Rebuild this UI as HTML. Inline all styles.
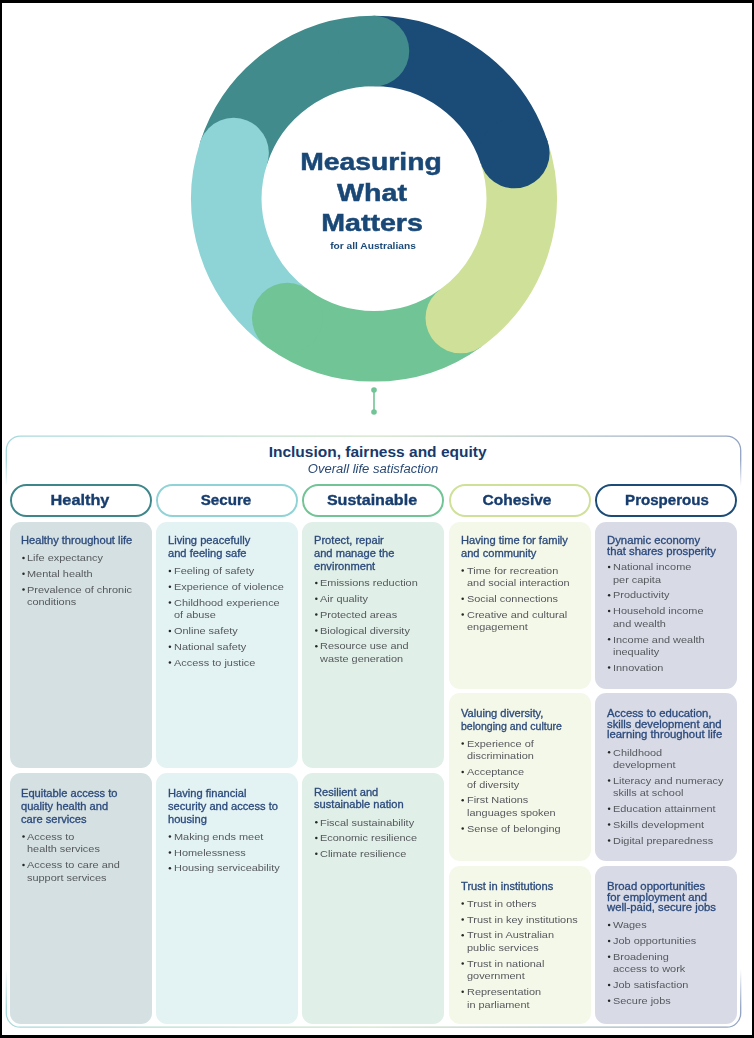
<!DOCTYPE html><html><head><meta charset="utf-8"><style>
html,body{margin:0;padding:0;}
body{width:754px;height:1038px;position:relative;overflow:hidden;background:#fff;font-family:"Liberation Sans",sans-serif;}
.a{position:absolute;white-space:nowrap;}
.h{color:#2c4a7c;font-size:10.4px;line-height:12px;-webkit-text-stroke:0.3px #2c4a7c;transform:scaleX(1.07);transform-origin:0 0;}
.b{color:#55585c;font-size:9.8px;line-height:12px;transform:scaleX(1.115);transform-origin:0 0;}
.d{position:absolute;width:2.5px;height:2.5px;background:#2a2a2a;border-radius:50%;}
.card{position:absolute;border-radius:11px;}
.pill{position:absolute;box-sizing:border-box;height:32.8px;border-radius:16.4px;border:2px solid;background:#fff;}
.pt{position:absolute;font-weight:bold;color:#1d4274;font-size:15px;line-height:18px;white-space:nowrap;text-align:center;}
</style></head><body>

<div style="position:absolute;left:0;top:0;width:754px;height:3px;background:#000"></div>
<div style="position:absolute;left:0;top:0;width:2px;height:1038px;background:#000"></div>
<div style="position:absolute;left:752px;top:0;width:2px;height:1038px;background:#000"></div>
<div style="position:absolute;left:0;top:1035px;width:754px;height:3px;background:#000"></div>
<svg class="a" style="left:0;top:0" width="754" height="420" viewBox="0 0 754 420"><path d="M233.62 153.09 A147.6 147.6 0 0 1 374.00 51.10" fill="none" stroke="#418b8c" stroke-width="70.5" stroke-linecap="butt"/><path d="M374.00 51.10 A147.6 147.6 0 0 1 514.38 153.09" fill="none" stroke="#1b4c77" stroke-width="70.5" stroke-linecap="butt"/><path d="M514.38 153.09 A147.6 147.6 0 0 1 460.76 318.11" fill="none" stroke="#cfe198" stroke-width="70.5" stroke-linecap="butt"/><path d="M460.76 318.11 A147.6 147.6 0 0 1 287.24 318.11" fill="none" stroke="#70c495" stroke-width="70.5" stroke-linecap="butt"/><path d="M287.24 318.11 A147.6 147.6 0 0 1 233.62 153.09" fill="none" stroke="#8ed4d7" stroke-width="70.5" stroke-linecap="butt"/><circle cx="374.00" cy="51.10" r="35.25" fill="#418b8c"/><circle cx="514.38" cy="153.09" r="35.25" fill="#1b4c77"/><circle cx="460.76" cy="318.11" r="35.25" fill="#cfe198"/><circle cx="287.24" cy="318.11" r="35.25" fill="#70c495"/><circle cx="233.62" cy="153.09" r="35.25" fill="#8ed4d7"/><line x1="374" y1="390" x2="374" y2="412" stroke="#70c495" stroke-width="1.6"/><circle cx="374" cy="390" r="2.8" fill="#70c495"/><circle cx="374" cy="412" r="2.8" fill="#70c495"/></svg>
<div class="a" style="left:71.0px;width:600px;text-align:center;top:147.48px;font-size:24px;line-height:29px;font-weight:bold;color:#1a4876;transform:scaleX(1.18);transform-origin:300px 0;-webkit-text-stroke:0.5px #1a4876">Measuring</div>
<div class="a" style="left:71.5px;width:600px;text-align:center;top:177.78px;font-size:24px;line-height:29px;font-weight:bold;color:#1a4876;transform:scaleX(1.19);transform-origin:300px 0;-webkit-text-stroke:0.5px #1a4876">What</div>
<div class="a" style="left:71.80000000000001px;width:600px;text-align:center;top:208.48px;font-size:24px;line-height:29px;font-weight:bold;color:#1a4876;transform:scaleX(1.19);transform-origin:300px 0;-webkit-text-stroke:0.5px #1a4876">Matters</div>
<div class="a" style="left:73.30000000000001px;width:600px;text-align:center;top:240.40px;font-size:9.8px;line-height:12px;font-weight:bold;color:#1b4a78;transform:scaleX(1.04);transform-origin:300px 0;">for all Australians</div>
<svg class="a" style="left:0;top:0" width="754" height="1038"><defs>
<linearGradient id="bg" x1="0" y1="0" x2="1" y2="0"><stop offset="0" stop-color="#a7d9dc"/><stop offset="0.5" stop-color="#cfe3c8"/><stop offset="1" stop-color="#93a3c2"/></linearGradient>
<linearGradient id="fd" gradientUnits="userSpaceOnUse" x1="0" y1="436" x2="0" y2="1028">
<stop offset="0" stop-color="#fff"/><stop offset="0.04" stop-color="#fff"/><stop offset="0.085" stop-color="#000"/>
<stop offset="0.9" stop-color="#000"/><stop offset="0.965" stop-color="#fff"/><stop offset="1" stop-color="#fff"/></linearGradient>
<mask id="mk"><rect x="0" y="0" width="754" height="1038" fill="url(#fd)"/></mask></defs>
<rect x="6.3" y="436.2" width="734.4" height="591" rx="14" fill="none" stroke="url(#bg)" stroke-width="1.3" mask="url(#mk)"/></svg>
<div class="a" style="left:77.60000000000002px;width:600px;text-align:center;top:441.63px;font-size:15.5px;line-height:19px;font-weight:bold;color:#17396b;transform:scaleX(1.0);transform-origin:300px 0;">Inclusion, fairness and equity</div>
<div class="a" style="left:73.0px;width:600px;text-align:center;top:461.84px;font-size:12px;line-height:14px;font-weight:normal;color:#2a4a76;font-style:italic;transform:scaleX(1.087);transform-origin:300px 0;">Overall life satisfaction</div>
<div class="pill" style="left:9.6px;top:484.1px;width:142.0px;border-color:#3d868a"></div>
<div class="a" style="left:-219.65px;width:600px;text-align:center;top:490.84px;font-size:14.6px;line-height:18px;font-weight:bold;color:#173d6e;transform:scaleX(1.115);transform-origin:300px 0;-webkit-text-stroke:0.35px #173d6e">Healthy</div>
<div class="pill" style="left:156.0px;top:484.1px;width:142.0px;border-color:#8fd3d6"></div>
<div class="a" style="left:-73.80000000000001px;width:600px;text-align:center;top:490.84px;font-size:14.6px;line-height:18px;font-weight:bold;color:#173d6e;transform:scaleX(1.039);transform-origin:300px 0;-webkit-text-stroke:0.35px #173d6e">Secure</div>
<div class="pill" style="left:302.40000000000003px;top:484.1px;width:142.0px;border-color:#70c495"></div>
<div class="a" style="left:71.69999999999999px;width:600px;text-align:center;top:490.84px;font-size:14.6px;line-height:18px;font-weight:bold;color:#173d6e;transform:scaleX(1.101);transform-origin:300px 0;-webkit-text-stroke:0.35px #173d6e">Sustainable</div>
<div class="pill" style="left:448.80000000000007px;top:484.1px;width:142.0px;border-color:#cfe198"></div>
<div class="a" style="left:217.29999999999995px;width:600px;text-align:center;top:490.84px;font-size:14.6px;line-height:18px;font-weight:bold;color:#173d6e;transform:scaleX(1.062);transform-origin:300px 0;-webkit-text-stroke:0.35px #173d6e">Cohesive</div>
<div class="pill" style="left:595.2px;top:484.1px;width:142.0px;border-color:#1b4c77"></div>
<div class="a" style="left:366.5px;width:600px;text-align:center;top:490.84px;font-size:14.6px;line-height:18px;font-weight:bold;color:#173d6e;transform:scaleX(1.033);transform-origin:300px 0;-webkit-text-stroke:0.35px #173d6e">Prosperous</div>
<div class="card" style="left:9.6px;top:521.75px;width:142.0px;height:246.0px;background:#d4e0e1"></div>
<div class="a h" style="left:21.40px;top:535.00px;">Healthy throughout life</div>
<div class="a b" style="left:27.40px;top:552.00px;">Life expectancy</div>
<div class="a b" style="left:27.40px;top:568.00px;">Mental health</div>
<div class="a b" style="left:27.40px;top:584.00px;">Prevalence of chronic</div>
<div class="a b" style="left:27.40px;top:596.00px;">conditions</div>
<div class="card" style="left:9.6px;top:773px;width:142.0px;height:251px;background:#d4e0e1"></div>
<div class="a h" style="left:21.40px;top:788.00px;">Equitable access to</div>
<div class="a h" style="left:21.40px;top:801.00px;">quality health and</div>
<div class="a h" style="left:21.40px;top:814.00px;">care services</div>
<div class="a b" style="left:27.40px;top:831.00px;">Access to</div>
<div class="a b" style="left:27.40px;top:843.00px;">health services</div>
<div class="a b" style="left:27.40px;top:859.00px;">Access to care and</div>
<div class="a b" style="left:27.40px;top:872.00px;">support services</div>
<div class="card" style="left:156.0px;top:521.75px;width:142.0px;height:246.0px;background:#e3f2f3"></div>
<div class="a h" style="left:167.80px;top:535.00px;">Living peacefully</div>
<div class="a h" style="left:167.80px;top:548.00px;">and feeling safe</div>
<div class="a b" style="left:173.80px;top:565.00px;">Feeling of safety</div>
<div class="a b" style="left:173.80px;top:581.00px;">Experience of violence</div>
<div class="a b" style="left:173.80px;top:597.00px;">Childhood experience</div>
<div class="a b" style="left:173.80px;top:609.00px;">of abuse</div>
<div class="a b" style="left:173.80px;top:625.00px;">Online safety</div>
<div class="a b" style="left:173.80px;top:641.00px;">National safety</div>
<div class="a b" style="left:173.80px;top:657.00px;">Access to justice</div>
<div class="card" style="left:156.0px;top:773px;width:142.0px;height:251px;background:#e3f2f3"></div>
<div class="a h" style="left:167.80px;top:788.00px;">Having financial</div>
<div class="a h" style="left:167.80px;top:801.00px;">security and access to</div>
<div class="a h" style="left:167.80px;top:814.00px;">housing</div>
<div class="a b" style="left:173.80px;top:831.00px;">Making ends meet</div>
<div class="a b" style="left:173.80px;top:847.00px;">Homelessness</div>
<div class="a b" style="left:173.80px;top:862.00px;">Housing serviceability</div>
<div class="card" style="left:302.40000000000003px;top:521.75px;width:142.0px;height:246.0px;background:#e0efe7"></div>
<div class="a h" style="left:314.20px;top:535.00px;">Protect, repair</div>
<div class="a h" style="left:314.20px;top:548.00px;">and manage the</div>
<div class="a h" style="left:314.20px;top:561.00px;">environment</div>
<div class="a b" style="left:320.20px;top:577.00px;">Emissions reduction</div>
<div class="a b" style="left:320.20px;top:593.00px;">Air quality</div>
<div class="a b" style="left:320.20px;top:609.00px;">Protected areas</div>
<div class="a b" style="left:320.20px;top:625.00px;">Biological diversity</div>
<div class="a b" style="left:320.20px;top:640.00px;">Resource use and</div>
<div class="a b" style="left:320.20px;top:653.00px;">waste generation</div>
<div class="card" style="left:302.40000000000003px;top:773px;width:142.0px;height:251px;background:#e0efe7"></div>
<div class="a h" style="left:314.20px;top:787.00px;">Resilient and</div>
<div class="a h" style="left:314.20px;top:799.00px;">sustainable nation</div>
<div class="a b" style="left:320.20px;top:817.00px;">Fiscal sustainability</div>
<div class="a b" style="left:320.20px;top:832.00px;">Economic resilience</div>
<div class="a b" style="left:320.20px;top:848.00px;">Climate resilience</div>
<div class="card" style="left:448.80000000000007px;top:521.75px;width:142.0px;height:166.75px;background:#f4f8e9"></div>
<div class="a h" style="left:460.60px;top:535.00px;">Having time for family</div>
<div class="a h" style="left:460.60px;top:548.00px;">and community</div>
<div class="a b" style="left:466.60px;top:565.00px;">Time for recreation</div>
<div class="a b" style="left:466.60px;top:577.00px;">and social interaction</div>
<div class="a b" style="left:466.60px;top:593.00px;">Social connections</div>
<div class="a b" style="left:466.60px;top:609.00px;">Creative and cultural</div>
<div class="a b" style="left:466.60px;top:621.00px;">engagement</div>
<div class="card" style="left:448.80000000000007px;top:693.2px;width:142.0px;height:168.19999999999993px;background:#f4f8e9"></div>
<div class="a h" style="left:460.60px;top:708.00px;">Valuing diversity,</div>
<div class="a h" style="left:460.60px;top:721.00px;transform:scaleX(1.016);">belonging and culture</div>
<div class="a b" style="left:466.60px;top:738.00px;">Experience of</div>
<div class="a b" style="left:466.60px;top:750.00px;">discrimination</div>
<div class="a b" style="left:466.60px;top:766.00px;">Acceptance</div>
<div class="a b" style="left:466.60px;top:779.00px;">of diversity</div>
<div class="a b" style="left:466.60px;top:794.00px;">First Nations</div>
<div class="a b" style="left:466.60px;top:807.00px;">languages spoken</div>
<div class="a b" style="left:466.60px;top:823.00px;">Sense of belonging</div>
<div class="card" style="left:448.80000000000007px;top:866px;width:142.0px;height:157.79999999999995px;background:#f4f8e9"></div>
<div class="a h" style="left:460.60px;top:881.00px;">Trust in institutions</div>
<div class="a b" style="left:466.60px;top:898.00px;">Trust in others</div>
<div class="a b" style="left:466.60px;top:914.00px;">Trust in key institutions</div>
<div class="a b" style="left:466.60px;top:929.00px;">Trust in Australian</div>
<div class="a b" style="left:466.60px;top:942.00px;">public services</div>
<div class="a b" style="left:466.60px;top:958.00px;">Trust in national</div>
<div class="a b" style="left:466.60px;top:970.00px;">government</div>
<div class="a b" style="left:466.60px;top:986.00px;">Representation</div>
<div class="a b" style="left:466.60px;top:999.00px;">in parliament</div>
<div class="card" style="left:595.2px;top:521.75px;width:142.0px;height:166.75px;background:#d8dbe6"></div>
<div class="a h" style="left:607.00px;top:535.00px;transform:scaleX(1.09);">Dynamic economy</div>
<div class="a h" style="left:607.00px;top:546.00px;transform:scaleX(1.09);">that shares prosperity</div>
<div class="a b" style="left:613.00px;top:561.00px;">National income</div>
<div class="a b" style="left:613.00px;top:574.00px;">per capita</div>
<div class="a b" style="left:613.00px;top:589.00px;">Productivity</div>
<div class="a b" style="left:613.00px;top:605.00px;">Household income</div>
<div class="a b" style="left:613.00px;top:618.00px;">and wealth</div>
<div class="a b" style="left:613.00px;top:634.00px;">Income and wealth</div>
<div class="a b" style="left:613.00px;top:646.00px;">inequality</div>
<div class="a b" style="left:613.00px;top:662.00px;">Innovation</div>
<div class="card" style="left:595.2px;top:693.2px;width:142.0px;height:168.19999999999993px;background:#d8dbe6"></div>
<div class="a h" style="left:607.00px;top:708.00px;transform:scaleX(1.09);">Access to education,</div>
<div class="a h" style="left:607.00px;top:719.00px;transform:scaleX(1.09);">skills development and</div>
<div class="a h" style="left:607.00px;top:729.00px;transform:scaleX(1.09);">learning throughout life</div>
<div class="a b" style="left:613.00px;top:747.00px;">Childhood</div>
<div class="a b" style="left:613.00px;top:759.00px;">development</div>
<div class="a b" style="left:613.00px;top:775.00px;">Literacy and numeracy</div>
<div class="a b" style="left:613.00px;top:787.00px;">skills at school</div>
<div class="a b" style="left:613.00px;top:803.00px;">Education attainment</div>
<div class="a b" style="left:613.00px;top:819.00px;">Skills development</div>
<div class="a b" style="left:613.00px;top:835.00px;">Digital preparedness</div>
<div class="card" style="left:595.2px;top:866px;width:142.0px;height:157.79999999999995px;background:#d8dbe6"></div>
<div class="a h" style="left:607.00px;top:881.00px;transform:scaleX(1.09);">Broad opportunities</div>
<div class="a h" style="left:607.00px;top:892.00px;transform:scaleX(1.09);">for employment and</div>
<div class="a h" style="left:607.00px;top:902.00px;transform:scaleX(1.09);">well-paid, secure jobs</div>
<div class="a b" style="left:613.00px;top:919.00px;">Wages</div>
<div class="a b" style="left:613.00px;top:935.00px;">Job opportunities</div>
<div class="a b" style="left:613.00px;top:951.00px;">Broadening</div>
<div class="a b" style="left:613.00px;top:963.00px;">access to work</div>
<div class="a b" style="left:613.00px;top:979.00px;">Job satisfaction</div>
<div class="a b" style="left:613.00px;top:995.00px;">Secure jobs</div>
<svg class="a" style="left:0;top:0" width="754" height="1038" fill="#262626"><circle cx="23.50" cy="558.00" r="1.25"/><circle cx="23.50" cy="573.80" r="1.25"/><circle cx="23.50" cy="589.60" r="1.25"/><circle cx="23.50" cy="836.60" r="1.25"/><circle cx="23.50" cy="864.90" r="1.25"/><circle cx="169.90" cy="571.00" r="1.25"/><circle cx="169.90" cy="586.80" r="1.25"/><circle cx="169.90" cy="602.60" r="1.25"/><circle cx="169.90" cy="630.90" r="1.25"/><circle cx="169.90" cy="646.70" r="1.25"/><circle cx="169.90" cy="662.50" r="1.25"/><circle cx="169.90" cy="836.60" r="1.25"/><circle cx="169.90" cy="852.40" r="1.25"/><circle cx="169.90" cy="868.20" r="1.25"/><circle cx="316.30" cy="583.00" r="1.25"/><circle cx="316.30" cy="598.80" r="1.25"/><circle cx="316.30" cy="614.60" r="1.25"/><circle cx="316.30" cy="630.40" r="1.25"/><circle cx="316.30" cy="646.20" r="1.25"/><circle cx="316.30" cy="822.20" r="1.25"/><circle cx="316.30" cy="838.00" r="1.25"/><circle cx="316.30" cy="853.80" r="1.25"/><circle cx="462.70" cy="570.50" r="1.25"/><circle cx="462.70" cy="598.80" r="1.25"/><circle cx="462.70" cy="614.60" r="1.25"/><circle cx="462.70" cy="743.60" r="1.25"/><circle cx="462.70" cy="771.90" r="1.25"/><circle cx="462.70" cy="800.20" r="1.25"/><circle cx="462.70" cy="828.50" r="1.25"/><circle cx="462.70" cy="903.60" r="1.25"/><circle cx="462.70" cy="919.40" r="1.25"/><circle cx="462.70" cy="935.20" r="1.25"/><circle cx="462.70" cy="963.50" r="1.25"/><circle cx="462.70" cy="991.80" r="1.25"/><circle cx="609.10" cy="566.90" r="1.25"/><circle cx="609.10" cy="595.20" r="1.25"/><circle cx="609.10" cy="611.00" r="1.25"/><circle cx="609.10" cy="639.30" r="1.25"/><circle cx="609.10" cy="667.60" r="1.25"/><circle cx="609.10" cy="752.20" r="1.25"/><circle cx="609.10" cy="780.50" r="1.25"/><circle cx="609.10" cy="808.80" r="1.25"/><circle cx="609.10" cy="824.60" r="1.25"/><circle cx="609.10" cy="840.40" r="1.25"/><circle cx="609.10" cy="925.10" r="1.25"/><circle cx="609.10" cy="940.90" r="1.25"/><circle cx="609.10" cy="956.70" r="1.25"/><circle cx="609.10" cy="985.00" r="1.25"/><circle cx="609.10" cy="1000.80" r="1.25"/></svg>
</body></html>
